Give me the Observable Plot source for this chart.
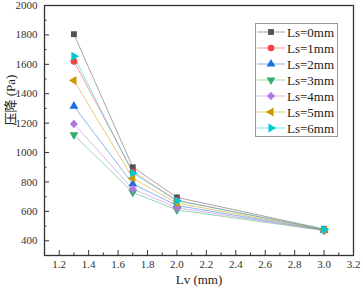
<!DOCTYPE html>
<html><head><meta charset="utf-8">
<script src="https://cdn.jsdelivr.net/npm/d3@7"></script>
<script src="https://cdn.jsdelivr.net/npm/@observablehq/plot@0.6"></script>
<style>body{margin:0;background:#fff}#chart{width:363px;height:292px}</style>
</head><body><div id="chart"></div>
<script>
// ---- data ----
const lv = [1.3, 1.7, 2.0, 3.0];
const seriesNames = ["Ls=0mm", "Ls=1mm", "Ls=2mm", "Ls=3mm", "Ls=4mm", "Ls=5mm", "Ls=6mm"];
const ls0 = [1805, 900, 695, 480];
const ls1 = [1620, 870, 675, 476];
const ls2 = [1315, 786, 640, 472];
const ls3 = [1120, 729, 610, 470];
const ls4 = [1195, 752, 625, 471];
const ls5 = [1490, 825, 656, 474];
const ls6 = [1655, 860, 672, 478];
const xTicks = [1.2, 1.4, 1.6, 1.8, 2.0, 2.2, 2.4, 2.6, 2.8, 3.0, 3.2];
const xMinor = [1.3, 1.5, 1.7, 1.9, 2.1, 2.3, 2.5, 2.7, 2.9, 3.1];
const yTicks = [400, 600, 800, 1000, 1200, 1400, 1600, 1800, 2000];
const yMinor = [500, 700, 900, 1100, 1300, 1500, 1700, 1900];
const xLabel = "Lv (mm)";
const yLabel = "压降 (Pa)";

const seriesValues = [ls0, ls1, ls2, ls3, ls4, ls5, ls6];
const colors = ["#515151", "#F14040", "#1A6FDF", "#37AD6B", "#B177DE", "#CC9900", "#00CBCC"];
const serif = "'Liberation Serif', 'Times New Roman', 'Noto Sans CJK SC', serif";

// custom symbols
const sqrt3 = Math.sqrt(3);
function tri(angle) {
  const c = Math.cos(angle), s = Math.sin(angle);
  return {draw(ctx, size) {
    const y = -Math.sqrt(size / (sqrt3 * 3));
    const pts = [[0, y * 2], [-sqrt3 * y, -y], [sqrt3 * y, -y]].map(([px, py]) => [px * c - py * s, px * s + py * c]);
    ctx.moveTo(pts[0][0], pts[0][1]); ctx.lineTo(pts[1][0], pts[1][1]); ctx.lineTo(pts[2][0], pts[2][1]); ctx.closePath();
  }};
}
const square = {draw(ctx, size) { const w = Math.sqrt(size), h = w / 2; ctx.rect(-h, -h, w, w); }};
const circle = {draw(ctx, size) { const r = Math.sqrt(size / Math.PI); ctx.moveTo(r, 0); ctx.arc(0, 0, r, 0, 2 * Math.PI); }};
const diamond = {draw(ctx, size) { const r = Math.sqrt(size) * 0.75; ctx.moveTo(0, -r); ctx.lineTo(r * 0.9, 0); ctx.lineTo(0, r); ctx.lineTo(-r * 0.9, 0); ctx.closePath(); }};
const symbols = [square, circle, tri(0), tri(Math.PI), diamond, tri(-Math.PI / 2), tri(Math.PI / 2)];
const symArea = 34;

const W = 363, H = 292, mL = 44, mR = 10, mT = 5, mB = 37;
const iw = W - mL - mR, ih = H - mT - mB;

const rows = seriesValues.map(vals => lv.map((x, i) => ({x, y: vals[i]})));

const marks = [
  Plot.axisX(xTicks, {tickSize: 0, tickPadding: 5, tickFormat: d => d.toFixed(1), label: null, fontSize: 11, fontFamily: serif, fill: "#333"}),
  Plot.axisY(yTicks, {tickSize: 0, tickPadding: 7, tickFormat: d3.format("d"), label: null, fontSize: 11, fontFamily: serif, fill: "#333"}),
  Plot.tickX(xTicks, {x: d => d, insetTop: ih - 5, stroke: "#333"}),
  Plot.tickX(xMinor, {x: d => d, insetTop: ih - 2.5, stroke: "#333"}),
  Plot.tickY(yTicks, {y: d => d, insetRight: iw - 5, stroke: "#333"}),
  Plot.tickY(yMinor, {y: d => d, insetRight: iw - 2.5, stroke: "#333"}),
  Plot.text([xLabel], {frameAnchor: "bottom", dy: 28, fontSize: 13, fill: "#222", fontFamily: serif}),
  Plot.text([yLabel], {frameAnchor: "left", rotate: -90, dx: -34, dy: -5, fontSize: 13, fill: "#222", fontFamily: serif})
];
rows.forEach((r, k) => {
  marks.push(Plot.line(r, {x: "x", y: "y", stroke: colors[k], strokeWidth: 0.8, strokeOpacity: 0.65}));
});
rows.forEach((r, k) => {
  marks.push(Plot.dot(r, {x: "x", y: "y", fill: colors[k], symbol: symbols[k], r: Math.sqrt(symArea / Math.PI), stroke: "none"}));
});
marks.push(Plot.frame({stroke: "#333", strokeWidth: 1.3}));

const chart = Plot.plot({
  width: W, height: H,
  marginLeft: mL, marginRight: mR, marginTop: mT, marginBottom: mB,
  style: {fontFamily: serif, fontSize: "11px", color: "#222", background: "white"},
  x: {domain: [1.1, 3.2]},
  y: {domain: [300, 2000]},
  marks
});

// legend
const svg = d3.select(chart);
const lg = svg.append("g").attr("font-family", serif).attr("font-size", 13).attr("text-anchor", "start");
lg.append("rect").attr("x", 255.5).attr("y", 23.5).attr("width", 82).attr("height", 113)
  .attr("fill", "white").attr("stroke", "#999").attr("stroke-width", 1);
seriesNames.forEach((name, k) => {
  const y = 32 + k * 16;
  lg.append("line").attr("x1", 257).attr("x2", 285).attr("y1", y).attr("y2", y)
    .attr("stroke", colors[k]).attr("stroke-width", 0.8).attr("stroke-opacity", 0.65);
  lg.append("path").attr("transform", `translate(271,${y})`).attr("d", d3.symbol(symbols[k], symArea)()).attr("fill", colors[k]);
  lg.append("text").attr("x", 287).attr("y", y).attr("dy", "0.35em").attr("text-anchor", "start").attr("fill", "#222").text(name);
});

document.getElementById("chart").appendChild(chart);
</script></body></html>
